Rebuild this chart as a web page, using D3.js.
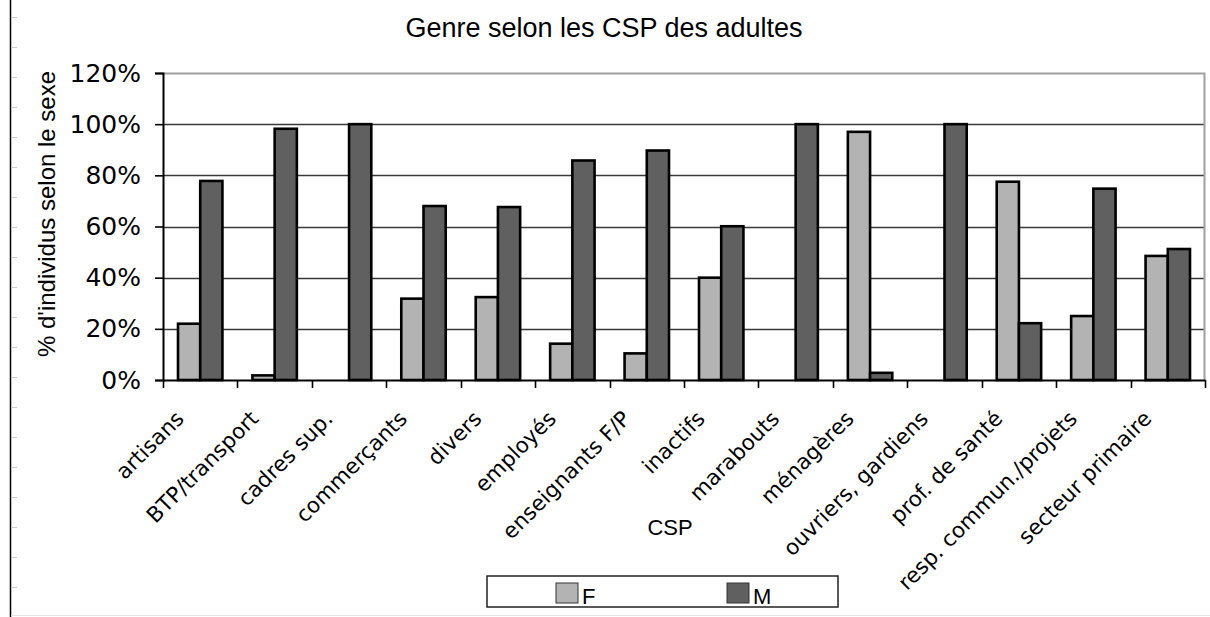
<!DOCTYPE html>
<html>
<head>
<meta charset="utf-8">
<script src="https://cdn.jsdelivr.net/npm/d3@7"></script>
<style>
  body { margin: 0; background: #fff; }
  svg { display: block; }
</style>
</head>
<body>
<div id="chart"></div>
<script>
const categories = ["artisans", "BTP/transport", "cadres sup.", "commerçants", "divers", "employés",
    "enseignants F/P", "inactifs", "marabouts", "ménagères", "ouvriers, gardiens", "prof. de santé",
    "resp. commun./projets", "secteur primaire"];
const series = ["F", "M"];
const valuesF = [22, 1.8, 0, 31.8, 32.4, 14.2, 10.4, 40, 0, 97, 0, 77.5, 25, 48.5];
const valuesM = [77.8, 98.2, 100, 68, 67.6, 85.8, 89.7, 60.1, 100, 2.8, 100, 22.2, 74.8, 51.2];
const yTicks = [0, 0.2, 0.4, 0.6, 0.8, 1.0, 1.2];

const width = 1210;
const height = 617;
const plot = { left: 163, right: 1205, top: 73, bottom: 380 };

const colors = { F: "#b3b3b3", M: "#606060" };

const svg = d3.select("#chart")
    .append("svg")
    .attr("width", width)
    .attr("height", height);

// sheet edge decoration
svg.append("line")
    .attr("x1", 10.5).attr("x2", 10.5)
    .attr("y1", 0).attr("y2", height)
    .attr("stroke", "#000").attr("stroke-width", 1.5);
svg.selectAll(".edge-tick")
    .data(d3.range(17, height, 30))
    .enter()
    .append("line")
    .attr("x1", 11).attr("x2", 17)
    .attr("y1", d => d + 0.5).attr("y2", d => d + 0.5)
    .attr("stroke", "#ccc");
svg.append("line")
    .attr("x1", 11).attr("x2", width)
    .attr("y1", 615.5).attr("y2", 615.5)
    .attr("stroke", "#e4e4e4");

const x = d3.scaleBand()
    .domain(categories)
    .range([plot.left, plot.right]);

const xSub = d3.scaleBand()
    .domain(series)
    .range([15, x.bandwidth() - 15]);

const y = d3.scaleLinear()
    .domain([0, 1.2])
    .range([plot.bottom, plot.top]);

// gridlines
svg.append("g")
    .selectAll("line")
    .data(yTicks.filter(t => t > 0 && t < 1.2))
    .enter()
    .append("line")
    .attr("x1", plot.left).attr("x2", plot.right)
    .attr("y1", d => Math.round(y(d)) + 0.5).attr("y2", d => Math.round(y(d)) + 0.5)
    .attr("stroke", "#3a3a3a")
    .attr("stroke-width", 1.6);

// plot frame top / right
svg.append("path")
    .attr("d", `M${plot.left},${plot.top + 0.5}H${plot.right - 0.5}V${plot.bottom}`)
    .attr("fill", "none")
    .attr("stroke", "#a0a0a0")
    .attr("stroke-width", 2);

// bars
const rows = categories.map((c, i) => ({ cat: c, F: valuesF[i], M: valuesM[i] }));

svg.append("g")
    .selectAll("g")
    .data(rows)
    .enter()
    .append("g")
    .attr("transform", d => `translate(${x(d.cat)},0)`)
    .selectAll("rect")
    .data(d => series.map(s => ({ key: s, value: d[s] })).filter(v => v.value > 0))
    .enter()
    .append("rect")
    .attr("x", d => xSub(d.key))
    .attr("y", d => y(d.value / 100))
    .attr("width", xSub.bandwidth())
    .attr("height", d => y(0) - y(d.value / 100))
    .attr("fill", d => colors[d.key])
    .attr("stroke", "#000")
    .attr("stroke-width", 2.6);

// y axis
const yAxis = svg.append("g")
    .attr("transform", `translate(${plot.left},0)`)
    .call(d3.axisLeft(y).tickValues(yTicks).tickFormat(d3.format(".0%")).tickSize(8).tickPadding(14));
yAxis.select(".domain").attr("stroke", "#000").attr("stroke-width", 2);
yAxis.selectAll(".tick line").attr("stroke", "#000").attr("stroke-width", 1.6);
yAxis.selectAll("text")
    .attr("fill", "#000")
    .style("font-family", "'DejaVu Sans', sans-serif")
    .style("font-size", "25px");

// x axis: labels at band centres, ticks at band edges
const xAxis = svg.append("g")
    .attr("transform", `translate(0,${plot.bottom})`)
    .call(d3.axisBottom(x).tickSize(0).tickPadding(0));
xAxis.select(".domain").attr("stroke", "#000").attr("stroke-width", 2);
xAxis.selectAll("text")
    .attr("y", 0)
    .attr("dy", 0)
    .attr("text-anchor", "end")
    .attr("transform", "translate(-15,40) rotate(-45)")
    .attr("fill", "#000")
    .style("font-family", "'DejaVu Sans', sans-serif")
    .style("font-size", "21.5px");

xAxis.selectAll(".edge")
    .data(categories.map(c => x(c)).concat([plot.right]))
    .enter()
    .append("line")
    .attr("x1", d => Math.round(d) + 0.5).attr("x2", d => Math.round(d) + 0.5)
    .attr("y1", 0).attr("y2", 8)
    .attr("stroke", "#000")
    .attr("stroke-width", 1.6);

// titles
svg.append("text")
    .attr("x", 604)
    .attr("y", 37)
    .attr("text-anchor", "middle")
    .style("font-family", "'Liberation Sans', Arial, sans-serif")
    .style("font-size", "27px")
    .text("Genre selon les CSP des adultes");

svg.append("text")
    .attr("transform", "translate(55,214) rotate(-90)")
    .attr("text-anchor", "middle")
    .style("font-family", "'Liberation Sans', Arial, sans-serif")
    .style("font-size", "24px")
    .text("% d'individus selon le sexe");

svg.append("text")
    .attr("x", 670)
    .attr("y", 535)
    .attr("text-anchor", "middle")
    .style("font-family", "'Liberation Sans', Arial, sans-serif")
    .style("font-size", "22px")
    .text("CSP");

// legend
const legend = svg.append("g").attr("transform", "translate(487,576)");
legend.append("rect")
    .attr("width", 351).attr("height", 31)
    .attr("fill", "#fff")
    .attr("stroke", "#222")
    .attr("stroke-width", 1.5);

const legendItems = legend.selectAll(".item")
    .data(series)
    .enter()
    .append("g")
    .attr("transform", (d, i) => `translate(${69 + i * 171},7)`);
legendItems.append("rect")
    .attr("width", 22).attr("height", 20)
    .attr("fill", d => colors[d])
    .attr("stroke", "#333");
legendItems.append("text")
    .attr("x", 26)
    .attr("y", 21)
    .style("font-family", "'Liberation Sans', Arial, sans-serif")
    .style("font-size", "22px")
    .text(d => d);
</script>
</body>
</html>
